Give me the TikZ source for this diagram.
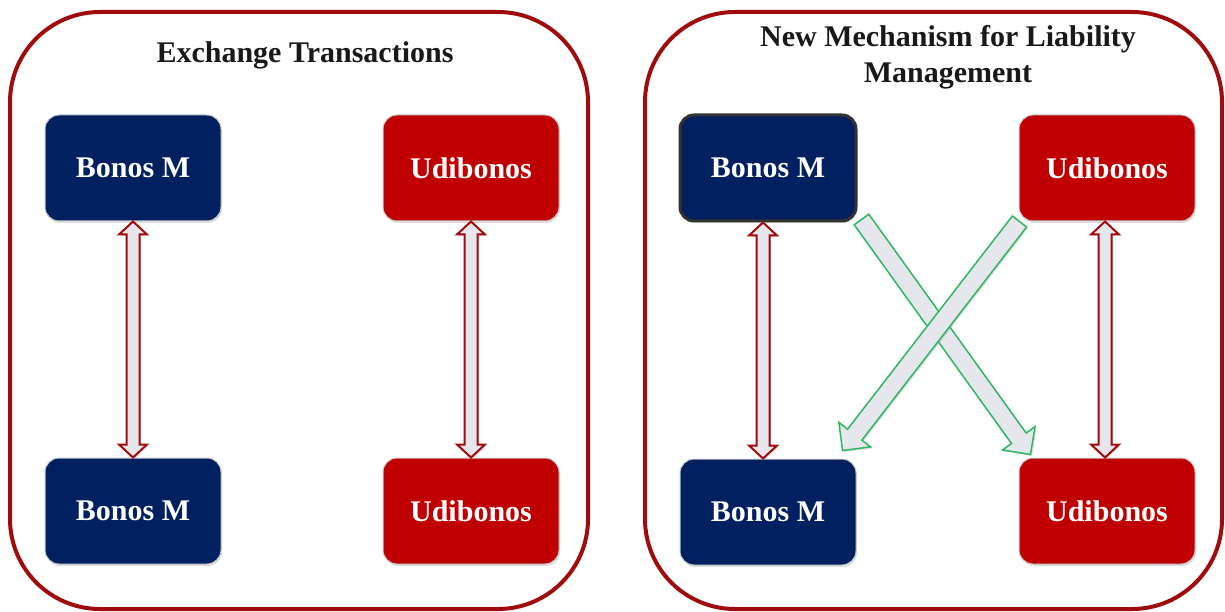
\documentclass[tikz,border=0pt]{standalone}
\usepackage{fontspec}
\setmainfont{Liberation Serif}
\usetikzlibrary{positioning,calc,shadows}
\definecolor{navy}{RGB}{0,32,96}
\definecolor{brick}{RGB}{192,0,0}
\definecolor{framered}{RGB}{160,12,14}
\definecolor{arrowfill}{RGB}{230,231,236}
\definecolor{arrowgreen}{RGB}{46,182,100}
\tikzstyle{panel}=[
	line width=4pt,
	draw=framered,
	rounded corners=90pt
]
\tikzstyle{bond}=[
	rectangle,
	rounded corners=14pt,
	draw=black!20,
	line width=1pt,
	minimum width=176pt,
	minimum height=106pt,
	text=white,
	font=\fontsize{30}{35}\selectfont\bfseries,
	drop shadow={opacity=0.25,shadow xshift=1pt,shadow yshift=-2pt}
]
\tikzstyle{bonosm}=[bond, fill=navy]
\tikzstyle{udibonos}=[bond, fill=brick]
\tikzstyle{title}=[
	font=\fontsize{30}{36}\selectfont\bfseries,
	text=black!90,
	align=center
]
\tikzstyle{swap}=[
	draw=framered,
	line width=2pt,
	fill=arrowfill,
	line join=miter,
	drop shadow={opacity=0.25,shadow xshift=1.5pt,shadow yshift=-1.5pt}
]
\tikzstyle{cross}=[
	draw=arrowgreen,
	line width=1.5pt,
	fill=arrowfill,
	line join=miter,
	drop shadow={opacity=0.25,shadow xshift=1.5pt,shadow yshift=-1.5pt}
]
% block arrow with a head at both ends
\newcommand{\dblarrow}[2]{%
	\coordinate (ha) at ($(#1)!13pt!(#2)$);
	\coordinate (hb) at ($(#2)!13pt!(#1)$);
	\draw[swap] (#1) -- ($(ha)!14pt!90:(#2)$) -- ($(ha)!6.5pt!90:(#2)$)
		-- ($(hb)!6.5pt!-90:(#1)$) -- ($(hb)!14pt!-90:(#1)$) -- (#2)
		-- ($(hb)!14pt!90:(#1)$) -- ($(hb)!6.5pt!90:(#1)$)
		-- ($(ha)!6.5pt!-90:(#2)$) -- ($(ha)!14pt!-90:(#2)$) -- cycle;
}
% block arrow with one head
\newcommand{\sglarrow}[2]{%
	\coordinate (hb) at ($(#2)!20pt!(#1)$);
	\draw[cross] ($(#1)!9pt!90:(#2)$) -- ($(hb)!9pt!-90:(#1)$)
		-- ($(hb)!20pt!-90:(#1)$) -- (#2) -- ($(hb)!20pt!90:(#1)$)
		-- ($(hb)!9pt!90:(#1)$) -- ($(#1)!9pt!-90:(#2)$) -- cycle;
}
\begin{document}
\begin{tikzpicture}[x=1pt,y=-1pt]
\useasboundingbox (0,0) rectangle (1225,612);
\draw[panel] (10,12) rectangle (588,609);
\draw[panel] (645,12) rectangle (1222,609);
\node [title] (ExTitle) at (305,55) {Exchange Transactions};
\node [title] (NmTitle) at (948,57) {New Mechanism for Liability\\Management};
% exchange transactions
\node [bonosm] (ExBonosTop) at (133,168) {Bonos M};
\node [udibonos] (ExUdiTop) [right=161pt of ExBonosTop] {Udibonos};
\node [bonosm] (ExBonosBottom) [below=236pt of ExBonosTop] {Bonos M};
\node [udibonos] (ExUdiBottom) [below=236pt of ExUdiTop] {Udibonos};
\dblarrow{ExBonosTop.south}{ExBonosBottom.north}
\dblarrow{ExUdiTop.south}{ExUdiBottom.north}
% new mechanism
\node [bonosm, draw=black!80, line width=3pt] (NmBonosTop) at (768,168) {Bonos M};
\node [udibonos] (NmUdiTop) [right=161pt of NmBonosTop] {Udibonos};
\node [bonosm] (NmBonosBottom) [below=236pt of NmBonosTop] {Bonos M};
\node [udibonos] (NmUdiBottom) [below=236pt of NmUdiTop] {Udibonos};
\dblarrow{[xshift=-5pt]NmBonosTop.south}{[xshift=-5pt]NmBonosBottom.north}
\dblarrow{[xshift=-2pt]NmUdiTop.south}{[xshift=-2pt]NmUdiBottom.north}
\coordinate (BonosOut) at ([shift={(4pt,3pt)}]NmBonosTop.south east);
\coordinate (UdiIn) at ([shift={(12pt,3pt)}]NmUdiBottom.north west);
\coordinate (UdiOut) at ([shift={(1pt,0pt)}]NmUdiTop.south west);
\coordinate (BonosIn) at ([shift={(-14pt,8pt)}]NmBonosBottom.north east);
\sglarrow{BonosOut}{UdiIn}
\sglarrow{UdiOut}{BonosIn}
\end{tikzpicture}
\end{document}
